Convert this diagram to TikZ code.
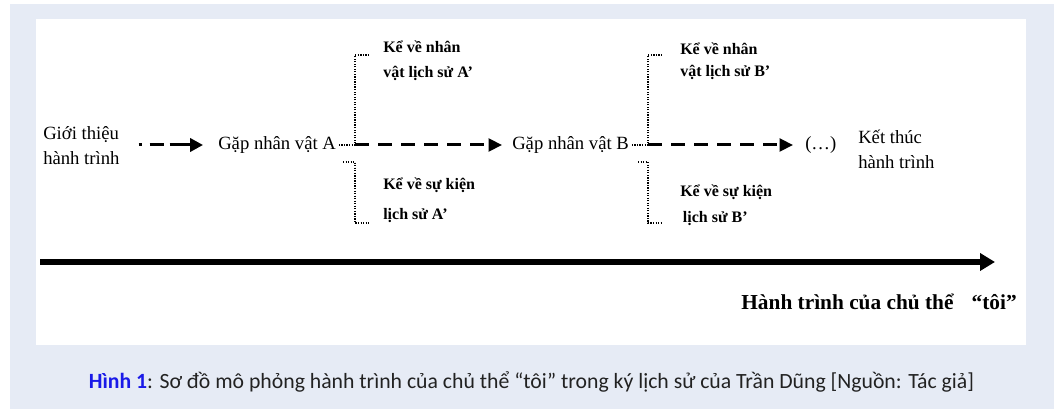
\documentclass[tikz,border=0pt]{standalone}
\usepackage{fontspec}
\setmainfont{Liberation Serif}
\newfontfamily\capfont{Carlito}
\usepackage{tikz}
\usetikzlibrary{arrows.meta}
\definecolor{pagebg}{HTML}{E6EBF5}
\definecolor{capblue}{HTML}{1A1AE8}
\definecolor{captext}{HTML}{222222}
\tikzset{
  stage/.style={inner sep=0pt, align=left, font=\fontsize{14}{18.75}\selectfont},
  note/.style={inner sep=0pt, anchor=west, align=left},
  brk/.style={line width=0.9pt, densely dotted},
  walk/.style={line width=2.25pt, dash pattern=on 10.5pt off 6.75pt,
    -{Triangle[length=10pt,width=9.5pt]}},
  journey/.style={line width=5pt, -{Triangle[length=11.25pt,width=12.75pt]}}
}
\newcommand{\histnote}[5]{\node[note, font=\bfseries\fontsize{12}{#4}\selectfont] (#1) at (#2,#3) {#5};}
\newcommand{\upbrk}[4]{\draw[brk, shorten <=2pt] (#1.east) -- (#2) |- (#3,#4);}
\newcommand{\lowbrk}[5]{\draw[brk] (#1,#3) -| (#2,#4) -- (#5,#4);}

\begin{document}
\begin{tikzpicture}[x=0.75pt, y=-0.75pt]
            \useasboundingbox (0,0) rectangle (1058,409);
            \fill[white] (0,0) rectangle (1058,409);
            \fill[pagebg] (10,4) rectangle (1054,409);
            \fill[white] (36,19) rectangle (1026,345);

            % stages
            \node[stage, anchor=west] (gt) at (43,145.5) {Giới thiệu\\hành trình};
            \node[stage, anchor=west] (ga) at (218,145) {Gặp nhân vật A};
            \node[stage, anchor=west] (gb) at (512,145) {Gặp nhân vật B};
            \node[stage, anchor=west] (dots) at (805,145) {(\dots)};
            \node[stage, anchor=west] (kt) at (858,149.5) {Kết thúc\\hành trình};

            \coordinate (ja) at (355,145);
            \coordinate (jb) at (648,145);

            % notes A
            \histnote{nva}{383}{60.5}{18.75pt}{Kể về nhân\\vật lịch sử A’}
            \histnote{ska}{383}{200}{22.5pt}{Kể về sự kiện\\lịch sử A’}

            % notes B
            \histnote{nvb}{680}{61}{16.5pt}{Kể về nhân\\vật lịch sử B’}
            \histnote{skb}{680}{205}{19.5pt}{Kể về sự kiện\\\hspace{2pt}lịch sử B’}

            % brackets
            \upbrk{ga}{ja}{368}{55}
            \lowbrk{343}{355}{162}{223}{370}
            \upbrk{gb}{jb}{662}{55}
            \lowbrk{638}{648}{162}{223}{662}

            % arrows
            \draw[walk, dash pattern=on 2.25pt off 6pt on 10.5pt off 4.5pt on 40pt off 1pt,
              -{Triangle[length=9.75pt,width=10pt]},
              shorten <=14.25pt, shorten >=11.25pt] (gt.east |- ga.west) -- (ga.west);
            \draw[walk, shorten >=7.5pt] (ja) -- (gb.west);
            \draw[walk, shorten >=9pt] (jb) -- (dots.west);

            % journey line
            \coordinate (ts) at (40,262);
            \coordinate (te) at (995,262);
            \draw[journey] (ts) -- (te);
            \node[inner sep=0pt, anchor=east, font=\bfseries\fontsize{16}{19}\selectfont]
              (owner) at (1017,302) {Hành trình của chủ thể\hspace{0.6em} “tôi”};

            % caption
            \node[inner sep=0pt, text=captext, font=\capfont\fontsize{16.3}{19}\selectfont]
              (cap) at (531.5,382) {\textcolor{capblue}{\bfseries Hình 1}: Sơ đồ mô phỏng hành trình của chủ thể “tôi” trong ký lịch sử của Trần Dũng [Nguồn: Tác giả]};
\end{tikzpicture}
\end{document}
